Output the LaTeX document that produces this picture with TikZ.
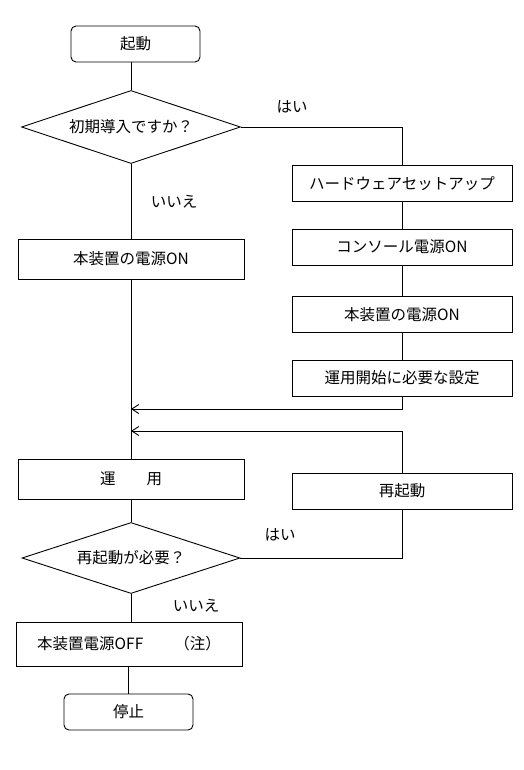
\documentclass[tikz,border=0pt]{standalone}
\usepackage{fontspec}
\setmainfont{Noto Sans CJK JP}
\usetikzlibrary{shapes.geometric,arrows.meta}

\begin{document}
\begin{tikzpicture}[x=1pt,y=-1pt,line width=0.9pt,
  every node/.style={font=\fontsize{15.5}{18}\selectfont},
  terminal/.style={draw,rounded corners=5pt,minimum width=129pt,minimum height=36pt,inner sep=0pt},
  process/.style={draw,minimum width=220pt,minimum height=36pt,inner sep=0pt},
  wideproc/.style={process,minimum width=226pt,minimum height=40pt},
  decision/.style={draw,diamond,aspect=2.95,minimum width=219pt,minimum height=73pt,inner sep=0pt},
  answer/.style={inner sep=0pt},
  back/.style={-{Straight Barb[length=7pt,width=9pt]}}]
  \useasboundingbox (0,0) rectangle (524,770);
  \node[terminal] (start) at (135.5,44) {起動};
  \node[decision] (init) at (131,127) {初期導入ですか？};
  \node[answer] (init yes) at (292,107) {はい};
  \node[answer] (init no) at (174,202) {いいえ};
  \node[wideproc] (poweron) at (131,259) {本装置の電源ON};
  \node[process] (setup) at (402,183.5) {ハードウェアセットアップ};
  \node[process] (console) at (402,247) {コンソール電源ON};
  \node[process] (poweron2) at (402,314.5) {本装置の電源ON};
  \node[process] (config) at (402,378) {運用開始に必要な設定};
  \coordinate (join1) at (131,409);
  \coordinate (join2) at (131,431);
  \node[wideproc] (run) at (131,479) {運　　用};
  \node[process] (reboot) at (402,491) {再起動};
  \node[decision,minimum height=71pt,minimum width=218pt] (again) at (131,558) {再起動が必要？};
  \node[answer] (again yes) at (280,535) {はい};
  \node[answer] (again no) at (196,606) {いいえ};
  \node[wideproc,minimum height=44pt] (poweroff) at (129,644) {本装置電源OFF　　（注）};
  \node[terminal] (stop) at (128.5,712) {停止};

  \draw (start.south -| init.north) -- (init.north);
  \draw (init.south) -- (poweron.north);
  \draw (init.east) -| (setup.north);
  \draw (setup) -- (console);
  \draw (console) -- (poweron2);
  \draw (poweron2) -- (config);
  \draw[back] (config.south) |- (join1);
  \draw (poweron.south) -- (run.north);
  \draw[back] (reboot.north) |- (join2);
  \draw (run.south) -- (again.north);
  \draw (again.east) -| (reboot.south);
  \draw (again.south) -- (again.south |- poweroff.north);
  \draw (poweroff.south -| stop.north) -- (stop.north);
\end{tikzpicture}
\end{document}
